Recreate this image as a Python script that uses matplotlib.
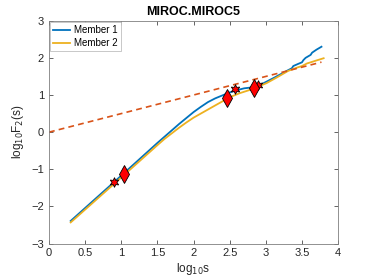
import numpy as np
import matplotlib.pyplot as plt

plt.rcParams['font.family'] = ['Liberation Sans', 'DejaVu Sans']

# log10 s / log10 F2(s)
m1_x = [0.3, 1.0, 1.5, 1.6, 1.7, 1.8, 1.9, 2.0, 2.1, 2.2, 2.3, 2.4, 2.5, 2.6, 2.7,
        2.83, 2.95, 3.1, 3.3, 3.36, 3.38, 3.45, 3.5, 3.52, 3.55, 3.62, 3.64, 3.7, 3.77]
m1_y = [-2.39, -1.17, -0.29, -0.12, 0.05, 0.22, 0.38, 0.54, 0.68, 0.81, 0.91, 0.99,
        1.07, 1.13, 1.18, 1.21, 1.3, 1.45, 1.66, 1.72, 1.78, 1.84, 1.88, 1.94, 2.0,
        2.08, 2.14, 2.22, 2.3]
m2_x = [0.3, 1.0, 1.5, 1.6, 1.7, 1.8, 1.9, 2.0, 2.1, 2.2, 2.3, 2.41, 2.5, 2.64, 2.8,
        3.01, 3.15, 3.31, 3.45, 3.5, 3.57, 3.62, 3.7, 3.8]
m2_y = [-2.43, -1.22, -0.35, -0.18, -0.03, 0.12, 0.26, 0.39, 0.5, 0.61, 0.72, 0.84,
        0.94, 1.05, 1.15, 1.32, 1.47, 1.65, 1.75, 1.78, 1.85, 1.88, 1.93, 1.99]
fit_x = [0.0, 3.77]
fit_slope = 0.5
star_x = [0.9, 2.58, 2.89]
star_y = [-1.33, 1.15, 1.27]
diam_x = [1.04, 2.46, 2.84]
diam_y = [-1.12, 0.93, 1.19]

fig = plt.figure(figsize=(3.74, 2.8), dpi=100)
ax = fig.add_axes([0.131, 0.130, 0.773, 0.796])

ax.plot(m1_x, m1_y, color='#0072BD', lw=1.3, label='Member 1')
ax.plot(m2_x, m2_y, color='#EDB120', lw=1.3, label='Member 2')
ax.plot(fit_x, np.array(fit_x) * fit_slope, color='#D95319', lw=1.2, ls=(0, (3.5, 2.5)))
ax.plot(star_x, star_y, ls='none', marker=(6, 1, 0), ms=7, mfc='red', mec='black', mew=0.6)
ax.plot(diam_x, diam_y, ls='none', marker='d', ms=9, mfc='red', mec='black', mew=0.6)

ax.set_xlim(0, 4)
ax.set_ylim(-3, 3)
ax.set_xticks(np.arange(0, 4.01, 0.5))
ax.set_xticklabels(['0', '0.5', '1', '1.5', '2', '2.5', '3', '3.5', '4'])
ax.set_yticks(range(-3, 4))
ax.tick_params(direction='in', top=True, right=True, labelsize=8, colors='#262626',
               length=3, width=0.5)
for s in ax.spines.values():
    s.set_color('#7f7f7f')
    s.set_linewidth(0.6)

ax.set_xlabel('log$_{10}$s', fontsize=8.5, color='#262626', labelpad=2)
ax.set_ylabel('log$_{10}$F$_2$(s)', fontsize=8.5, color='#262626', labelpad=4)
ax.set_title('MIROC.MIROC5', fontsize=9, fontweight='bold', pad=4)

leg = ax.legend(loc='upper left', fontsize=7, handlelength=1.7, borderaxespad=0.1,
                fancybox=False, framealpha=1, borderpad=0.35, labelspacing=0.3,
                handletextpad=0.4)
leg.get_frame().set_edgecolor('#bfbfbf')
leg.get_frame().set_linewidth(0.6)

fig.savefig('out.png', dpi=100)
